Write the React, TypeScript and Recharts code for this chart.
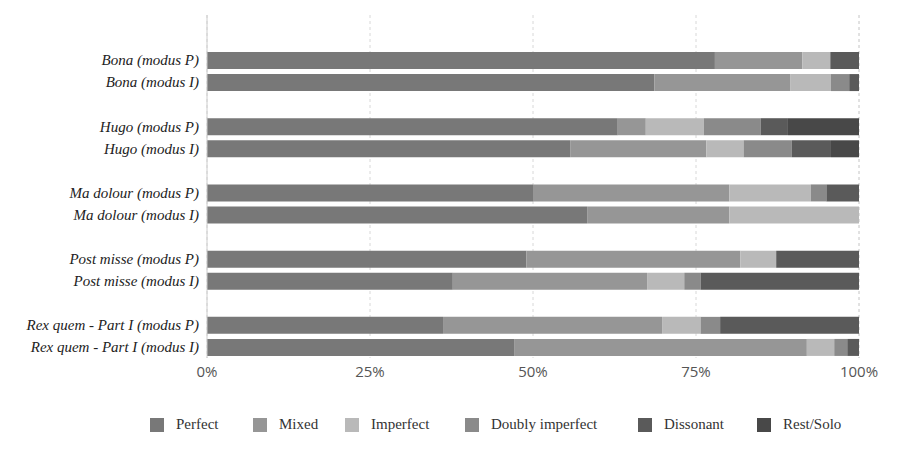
import React from "react";
import { BarChart, Bar, XAxis, YAxis, CartesianGrid, Legend } from "recharts";

const categories = ["Bona (modus P)", "Bona (modus I)", "", "Hugo (modus P)", "Hugo (modus I)", " ", "Ma dolour (modus P)", "Ma dolour (modus I)", "  ", "Post misse (modus P)", "Post misse (modus I)", "   ", "Rex quem - Part I (modus P)", "Rex quem - Part I (modus I)"];
const perfect = [77.9, 68.6, 0, 63.0, 55.7, 0, 50.0, 58.3, 0, 49.0, 37.7, 0, 36.2, 47.1];
const mixed = [13.4, 20.9, 0, 4.3, 20.9, 0, 30.1, 21.8, 0, 32.8, 29.8, 0, 33.6, 44.9];
const imperfect = [4.3, 6.2, 0, 8.9, 5.7, 0, 12.5, 19.9, 0, 5.5, 5.7, 0, 5.9, 4.2];
const doubly = [0, 2.8, 0, 8.7, 7.4, 0, 2.4, 0, 0, 0, 2.5, 0, 3.0, 2.0];
const dissonant = [4.4, 1.5, 0, 4.2, 6.0, 0, 5.0, 0, 0, 12.7, 24.3, 0, 21.3, 1.8];
const rest = [0, 0, 0, 10.9, 4.3, 0, 0, 0, 0, 0, 0, 0, 0, 0];
const xTicks = [0, 25, 50, 75, 100];

const series = [
  { key: "perfect", name: "Perfect", color: "#787878", vals: perfect },
  { key: "mixed", name: "Mixed", color: "#969696", vals: mixed },
  { key: "imperfect", name: "Imperfect", color: "#b9b9b9", vals: imperfect },
  { key: "doubly", name: "Doubly imperfect", color: "#8a8a8a", vals: doubly },
  { key: "dissonant", name: "Dissonant", color: "#5a5a5a", vals: dissonant },
  { key: "rest", name: "Rest/Solo", color: "#484848", vals: rest },
];

const data = categories.map((c, i) => {
  const row: any = { name: c };
  series.forEach((s) => (row[s.key] = s.vals[i]));
  return row;
});

const legendLeft = [142, 245, 337, 457, 630, 749];

const LegendContent = () => (
  <div style={{ position: "relative", height: 20, fontFamily: "Liberation Serif, serif", fontSize: 15, color: "#333" }}>
    {series.map((s, i) => (
      <div key={s.key} style={{ position: "absolute", left: legendLeft[i], top: 0, display: "flex", alignItems: "center", whiteSpace: "nowrap" }}>
        <span style={{ width: 14, height: 14, background: s.color, display: "inline-block", marginRight: 12 }} />
        {s.name}
      </div>
    ))}
  </div>
);

export default function App() {
  return (
    <BarChart width={892} height={440} data={data} layout="vertical" barSize={17}
      margin={{ top: 7, right: 41, bottom: 40, left: 0 }}>
      <CartesianGrid horizontal={false} strokeDasharray="3 3" stroke="#d8d8d8" />
      <XAxis type="number" domain={[0, 100]} ticks={xTicks} tickFormatter={(v) => v + "%"}
        axisLine={false} tickLine={false} tick={{ fill: "#555", fontSize: 15, fontFamily: "Open Sans, sans-serif" }} />
      <YAxis type="category" dataKey="name" width={199} padding={{ top: 34, bottom: 0 }}
        axisLine={{ stroke: "#cccccc" }} tickLine={false} interval={0}
        tick={{ fill: "#222", fontSize: 15, fontStyle: "italic", fontFamily: "Liberation Serif, serif" }} />
      {series.map((s) => (
        <Bar key={s.key} dataKey={s.key} name={s.name} stackId="a" fill={s.color} isAnimationActive={false} />
      ))}
      <Legend verticalAlign="bottom" content={<LegendContent />} wrapperStyle={{ bottom: 12, left: 0, width: 892 }} />
    </BarChart>
  );
}
